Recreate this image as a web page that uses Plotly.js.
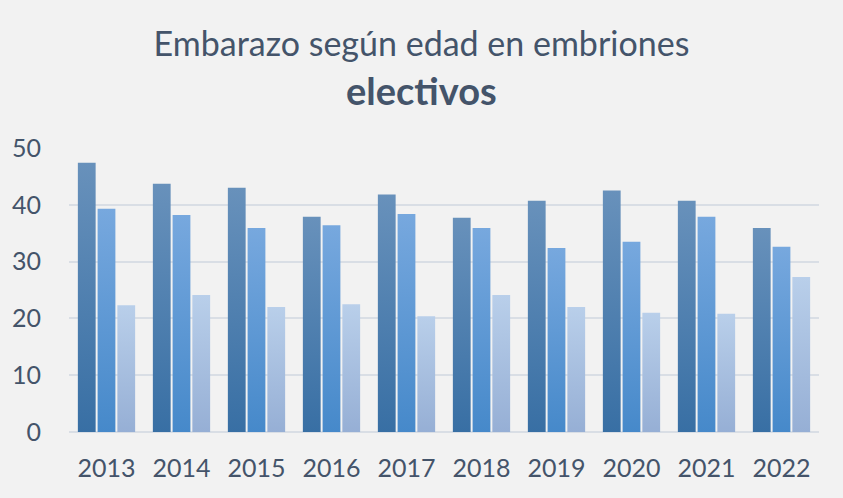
<!DOCTYPE html>
<html>
<head>
<meta charset="utf-8">
<script src="https://cdn.plot.ly/plotly-3.0.1.min.js"></script>
<style>
html,body{margin:0;padding:0;background:#F2F2F2;}
#chart{width:843px;height:498px;}
</style>
</head>
<body>
<div id="chart"></div>
<script>
const years = ['2013','2014','2015','2016','2017','2018','2019','2020','2021','2022'];
const serieA = [47.4, 43.7, 43.0, 37.9, 41.8, 37.7, 40.7, 42.5, 40.7, 35.9];
const serieB = [39.3, 38.2, 35.9, 36.4, 38.4, 35.9, 32.4, 33.5, 37.9, 32.6];
const serieC = [22.3, 24.1, 22.0, 22.5, 20.4, 24.1, 22.0, 21.0, 20.8, 27.3];
const seriesNames = ['Serie 1', 'Serie 2', 'Serie 3'];
const yTicks = [0, 10, 20, 30, 40, 50];

const solid = ['#4B7DB0', '#5A9BDA', '#AFC6E6'];
const grads = [
  ['#6891BB', '#386FA4'],
  ['#77A8DE', '#4689CA'],
  ['#B9CFEA', '#96AFD5']
];
const textColor = '#44546A';
const fontFam = 'Lato, "Open Sans", sans-serif';

const traces = [serieA, serieB, serieC].map((vals, i) => ({
  type: 'bar',
  x: years,
  y: vals,
  name: seriesNames[i],
  marker: {color: solid[i], line: {width: 0}},
  hoverinfo: 'x+y'
}));

const layout = {
  width: 843,
  height: 498,
  paper_bgcolor: '#F2F2F2',
  plot_bgcolor: '#F2F2F2',
  showlegend: false,
  barmode: 'group',
  bargap: 0.21,
  bargroupgap: 0.1,
  margin: {l: 69, r: 24, t: 148, b: 66},
  font: {family: fontFam, color: textColor},
  title: {
    text: 'Embarazo según edad en embriones',
    font: {size: 34, color: textColor, family: fontFam},
    x: 0.5, xanchor: 'center', xref: 'container',
    y: 1 - 44 / 498, yref: 'container', yanchor: 'middle'
  },
  annotations: [{
    text: '<b>electivos</b>',
    xref: 'paper', yref: 'paper',
    x: (421 - 69) / 750, y: 1, xanchor: 'center', yanchor: 'middle',
    yshift: 148 - 90,
    showarrow: false,
    font: {size: 38, color: textColor, family: fontFam}
  }],
  xaxis: {
    type: 'category',
    tickfont: {size: 25, color: textColor},
    showgrid: false,
    showline: false,
    ticks: '',
    ticklabelstandoff: 19
  },
  yaxis: {
    range: [0, 50],
    tickvals: yTicks,
    ticktext: yTicks.map(String),
    tickfont: {size: 25, color: textColor},
    showgrid: true,
    gridcolor: '#D9DEE5',
    gridwidth: 1.8,
    zeroline: true,
    zerolinecolor: '#D9DEE5',
    zerolinewidth: 2,
    showline: false,
    ticks: '',
    ticklabelstandoff: 27
  }
};

function applyGradients(gd) {
  const svg = gd.querySelector('.main-svg');
  if (!svg) return;
  const ns = 'http://www.w3.org/2000/svg';
  let defs = svg.querySelector('defs#customgrads');
  if (!defs) {
    defs = document.createElementNS(ns, 'defs');
    defs.setAttribute('id', 'customgrads');
    grads.forEach((g, i) => {
      const lg = document.createElementNS(ns, 'linearGradient');
      lg.setAttribute('id', 'barGrad' + i);
      lg.setAttribute('x1', '0'); lg.setAttribute('y1', '0');
      lg.setAttribute('x2', '0'); lg.setAttribute('y2', '1');
      const s1 = document.createElementNS(ns, 'stop');
      s1.setAttribute('offset', '0'); s1.setAttribute('stop-color', g[0]);
      const s2 = document.createElementNS(ns, 'stop');
      s2.setAttribute('offset', '1'); s2.setAttribute('stop-color', g[1]);
      lg.appendChild(s1); lg.appendChild(s2);
      defs.appendChild(lg);
    });
    svg.insertBefore(defs, svg.firstChild);
  }
  const tr = gd.querySelectorAll('.barlayer .trace');
  tr.forEach((t, i) => {
    t.querySelectorAll('.point path').forEach(p => {
      p.style.fill = 'url(#barGrad' + i + ')';
    });
  });
}

const gd = document.getElementById('chart');
Plotly.newPlot(gd, traces, layout, {displayModeBar: false, staticPlot: true}).then(() => {
  applyGradients(gd);
  gd.on('plotly_afterplot', () => applyGradients(gd));
});
</script>
</body>
</html>
